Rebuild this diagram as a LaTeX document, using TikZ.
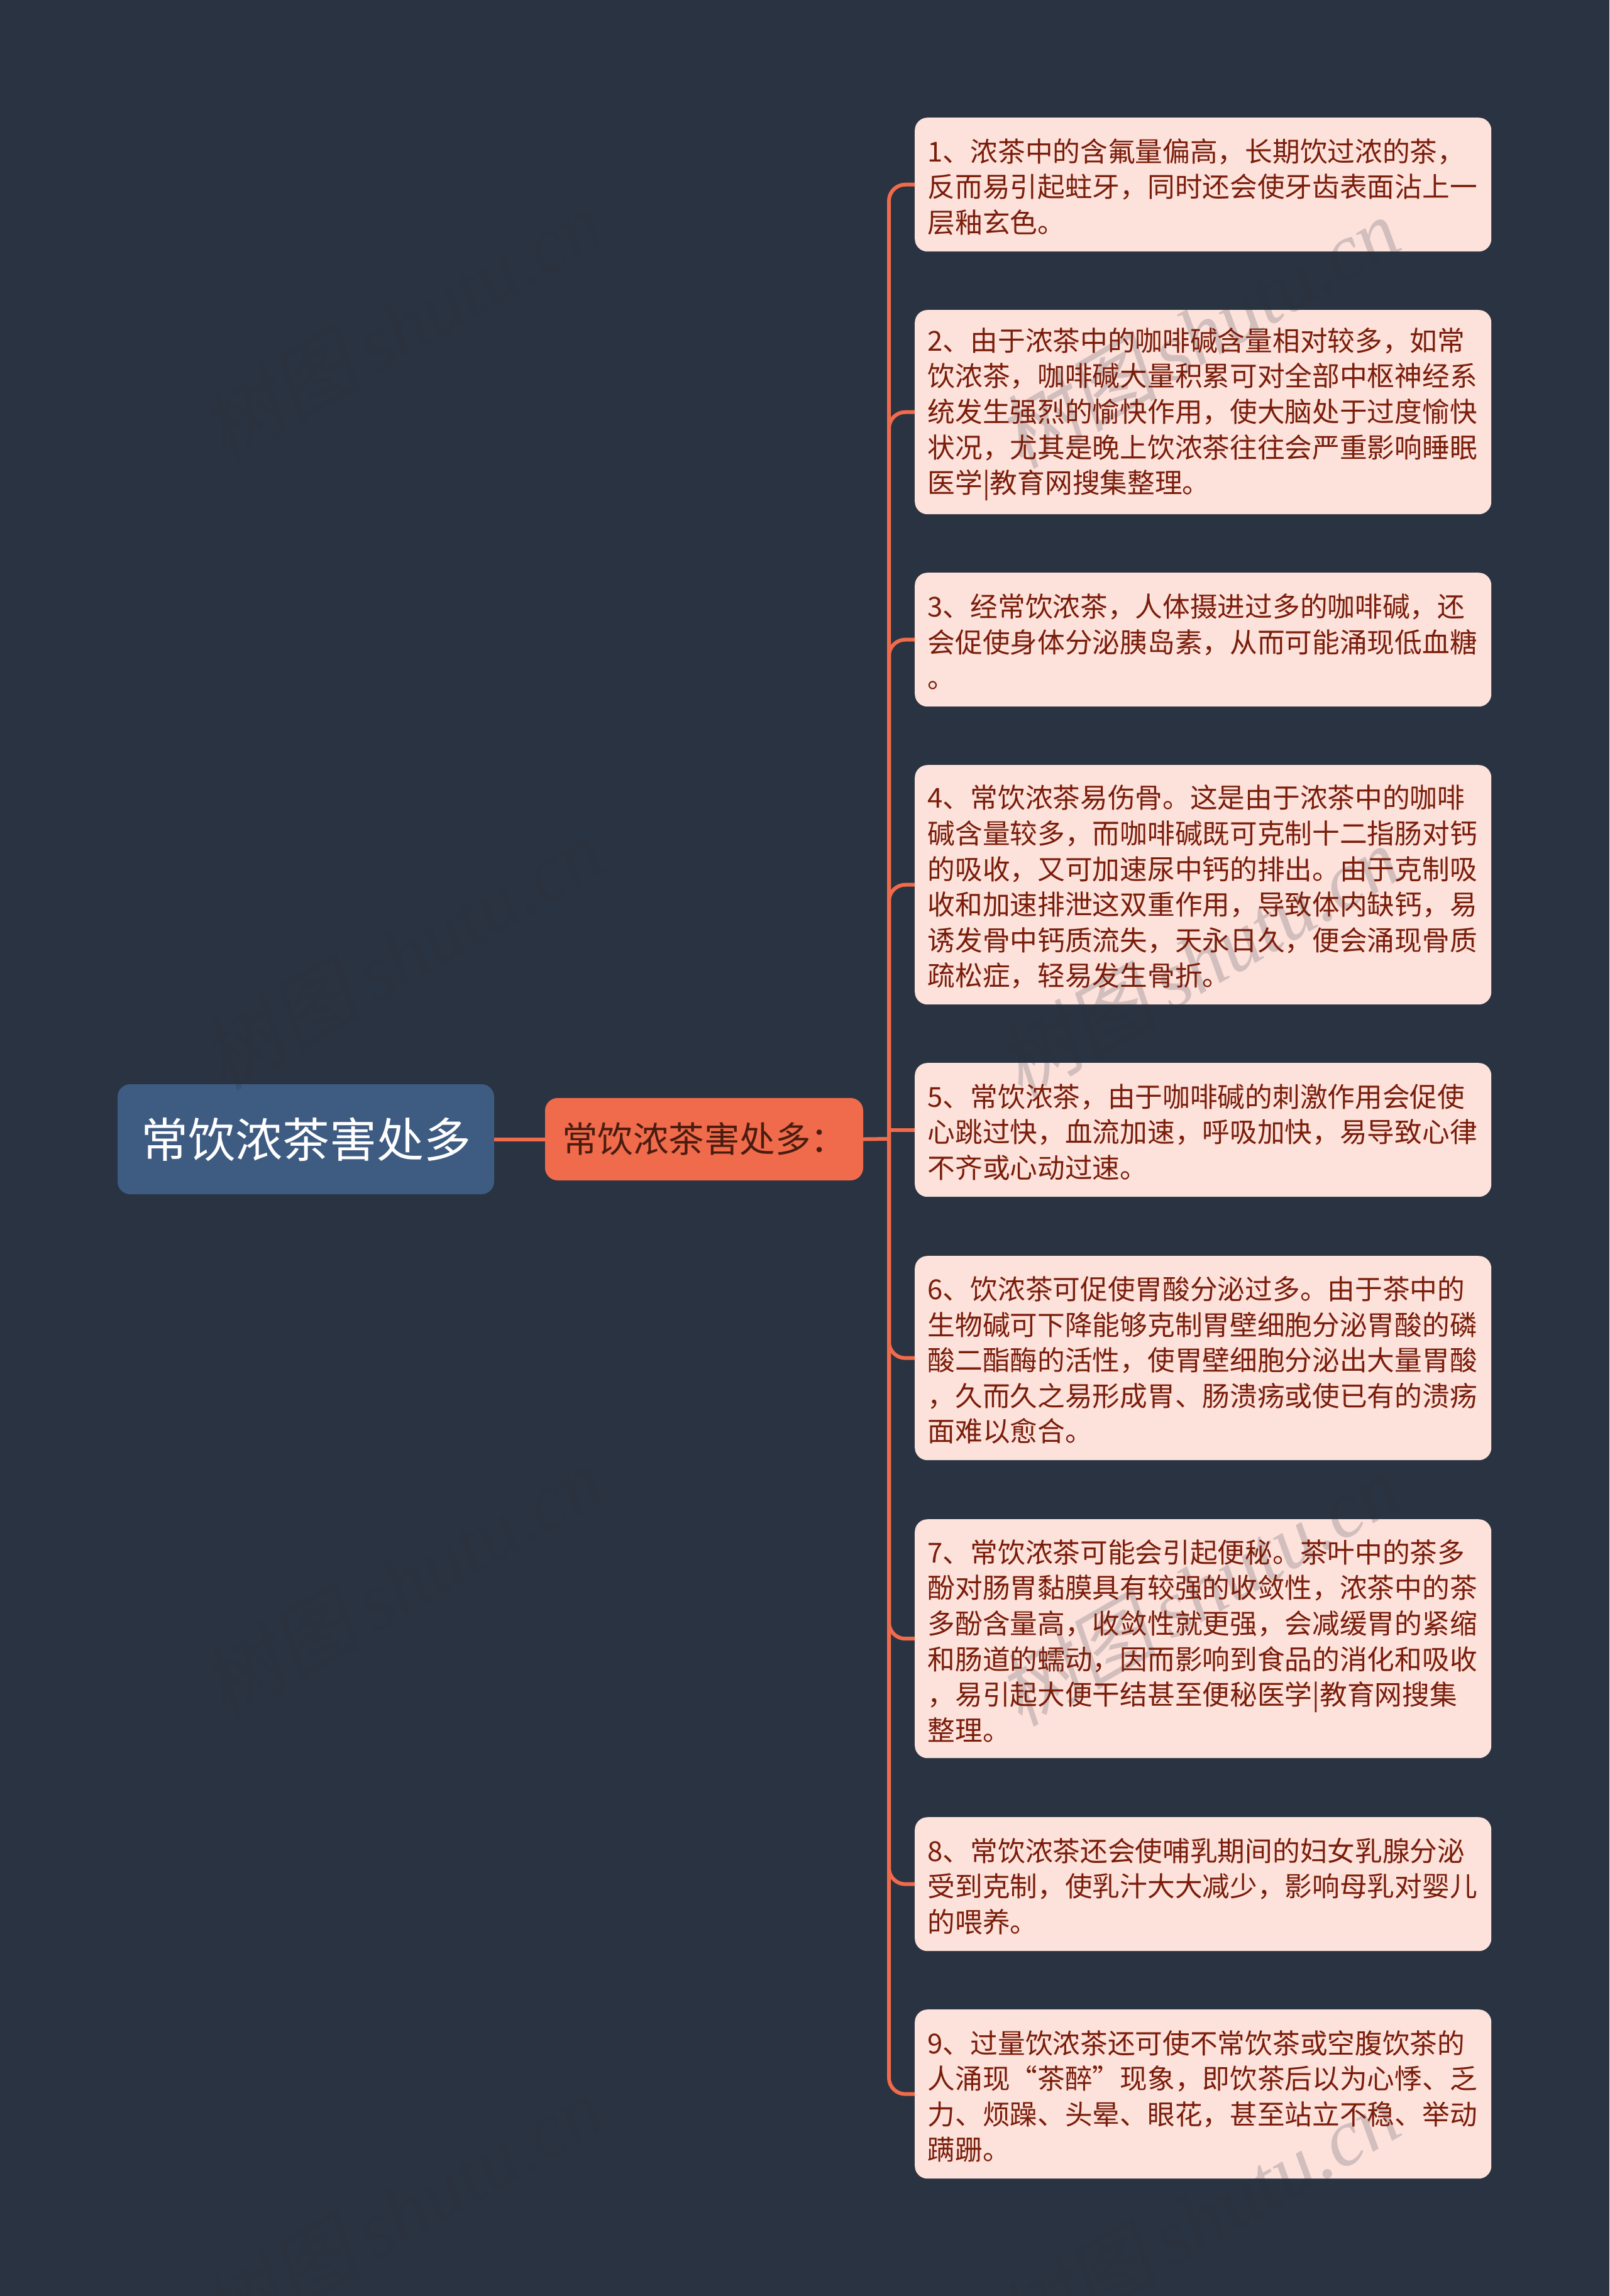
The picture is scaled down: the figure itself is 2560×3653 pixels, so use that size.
\documentclass[tikz,border=0pt]{standalone}
\usepackage{fontspec}
\setmainfont{Noto Sans CJK SC}
\newfontfamily\wmlatin{Liberation Serif}[Ligatures=TeX]
\newfontfamily\wmcjk[FakeSlant=0.2]{Noto Sans CJK SC}
\definecolor{bgc}{HTML}{2A3341}
\definecolor{rootc}{HTML}{3E5B82}
\definecolor{orangec}{HTML}{F06B4B}
\definecolor{leafc}{HTML}{FDE2DC}
\definecolor{leaftext}{HTML}{7A1D0A}
\definecolor{midtext}{HTML}{4A1C10}
\definecolor{wmc}{HTML}{2A3140}
\tikzset{
  x=1pt,y=-1pt,
  leaf/.style={draw=none,fill=leafc,rounded corners=20pt,minimum width=917pt,anchor=north west,inner sep=0pt},
  leaftxt/.style={align=left,inner sep=0pt,text=leaftext,font=\fontsize{43.7pt}{56.6pt}\selectfont,text width=876pt},
  rootbox/.style={fill=rootc,rounded corners=20pt,minimum width=599pt,minimum height=175pt,inner sep=0pt,text=white,font=\fontsize{75pt}{80pt}\selectfont},
  midbox/.style={fill=orangec,rounded corners=20pt,minimum width=506pt,minimum height=131pt,inner sep=0pt,text=midtext,font=\fontsize{56.5pt}{60pt}\selectfont},
  conn/.style={draw=orangec,line width=6pt,rounded corners=26pt},
  wm/.style={rotate=30,anchor=east,text=wmc,text opacity=0.2,inner sep=0pt,font=\fontsize{128pt}{128pt}\selectfont}
}
\newcommand{\leafbox}[3]{\node[leaf,minimum height=#3pt] (#1) at (1455,#2) {};}
\newcommand{\leaflabel}[2]{\node[leaftxt,yshift=-3.5pt] (#1t) at (#1.center) {#2};}
\newcommand{\wmtext}{{\wmcjk 树图}\,{\wmlatin\itshape shutu.cn}}
\begin{document}
\begin{tikzpicture}
\path[fill=bgc] (0,0) rectangle (2560,3653);
\useasboundingbox (0,0) rectangle (2560,3653);
\coordinate (jn) at (1414,1812);
\node[rootbox] (root) at (486.5,1812.5) {常饮浓茶害处多};
\node[midbox] (mid) at (1120,1812.5) {常饮浓茶害处多：};
\leafbox{b1}{187}{213}
\leafbox{b2}{493}{325}
\leafbox{b3}{911}{213}
\leafbox{b4}{1217}{381}
\leafbox{b5}{1691}{213}
\leafbox{b6}{1998}{325}
\leafbox{b7}{2417}{380}
\leafbox{b8}{2891}{213}
\leafbox{b9}{3197}{269}
\draw[conn] (root.east) -- (mid.west);
\draw[conn] (mid.east) -- (jn);
\foreach \b in {b1,b2,b3,b4,b6,b7,b8,b9} \draw[conn] (jn) |- (\b.west);
\draw[conn,rounded corners=0pt] (jn) |- (b5.west);
\foreach \k in {0,1,2,3} {
  \node[wm] (wl\k) at (945,340+1000*\k) {\wmtext};
  \node[wm] (wr\k) at (2212,352+1000*\k) {\wmtext};
}
\leaflabel{b1}{1、浓茶中的含氟量偏高，长期饮过浓的茶，\\反而易引起蛀牙，同时还会使牙齿表面沾上一\\层釉玄色。}
\leaflabel{b2}{2、由于浓茶中的咖啡碱含量相对较多，如常\\饮浓茶，咖啡碱大量积累可对全部中枢神经系\\统发生强烈的愉快作用，使大脑处于过度愉快\\状况，尤其是晚上饮浓茶往往会严重影响睡眠\\医学|教育网搜集整理。}
\leaflabel{b3}{3、经常饮浓茶，人体摄进过多的咖啡碱，还\\会促使身体分泌胰岛素，从而可能涌现低血糖\\。}
\leaflabel{b4}{4、常饮浓茶易伤骨。这是由于浓茶中的咖啡\\碱含量较多，而咖啡碱既可克制十二指肠对钙\\的吸收，又可加速尿中钙的排出。由于克制吸\\收和加速排泄这双重作用，导致体内缺钙，易\\诱发骨中钙质流失，天永日久，便会涌现骨质\\疏松症，轻易发生骨折。}
\leaflabel{b5}{5、常饮浓茶，由于咖啡碱的刺激作用会促使\\心跳过快，血流加速，呼吸加快，易导致心律\\不齐或心动过速。}
\leaflabel{b6}{6、饮浓茶可促使胃酸分泌过多。由于茶中的\\生物碱可下降能够克制胃壁细胞分泌胃酸的磷\\酸二酯酶的活性，使胃壁细胞分泌出大量胃酸\\，久而久之易形成胃、肠溃疡或使已有的溃疡\\面难以愈合。}
\leaflabel{b7}{7、常饮浓茶可能会引起便秘。茶叶中的茶多\\酚对肠胃黏膜具有较强的收敛性，浓茶中的茶\\多酚含量高，收敛性就更强，会减缓胃的紧缩\\和肠道的蠕动，因而影响到食品的消化和吸收\\，易引起大便干结甚至便秘医学|教育网搜集\\整理。}
\leaflabel{b8}{8、常饮浓茶还会使哺乳期间的妇女乳腺分泌\\受到克制，使乳汁大大减少，影响母乳对婴儿\\的喂养。}
\leaflabel{b9}{9、过量饮浓茶还可使不常饮茶或空腹饮茶的\\人涌现“茶醉”现象，即饮茶后以为心悸、乏\\力、烦躁、头晕、眼花，甚至站立不稳、举动\\蹒跚。}
\end{tikzpicture}
\end{document}
